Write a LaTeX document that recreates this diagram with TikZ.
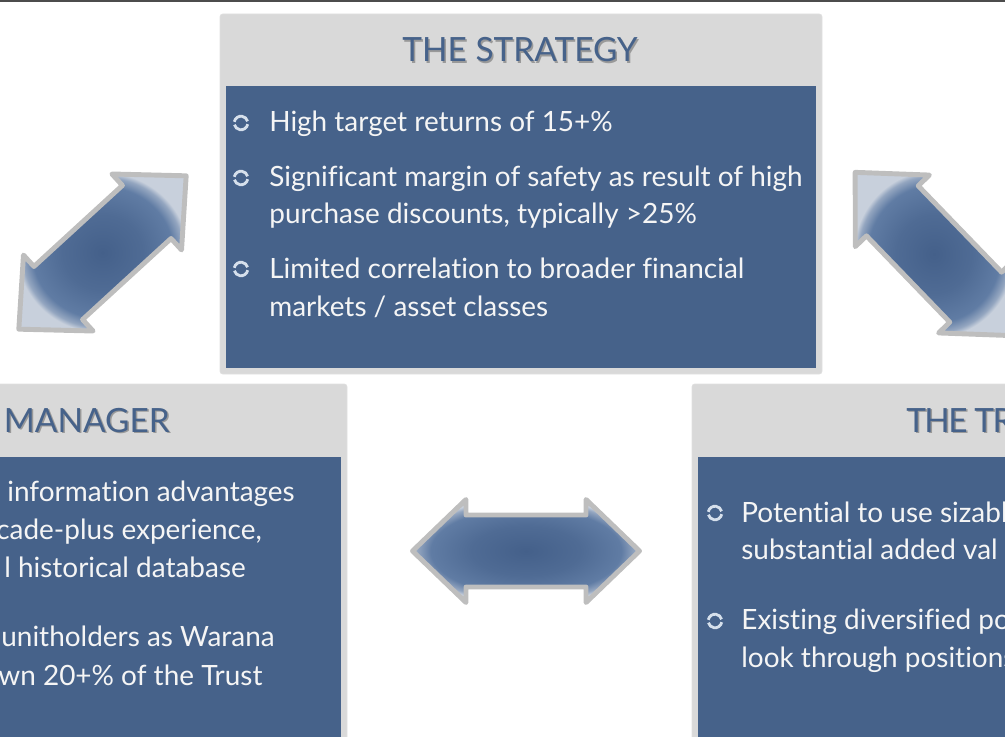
\documentclass[tikz,border=0pt]{standalone}
\usepackage{fontspec}
\newfontfamily\panelfont[Ligatures=NoCommon]{Lato}
\usetikzlibrary{arrows}

\definecolor{panelgray}{RGB}{217,217,217}
\definecolor{boxblue}{RGB}{70,98,138}
\definecolor{edgegray}{RGB}{190,190,190}
\definecolor{arrowdark}{RGB}{68,96,138}
\definecolor{arrowmid}{RGB}{96,124,164}
\definecolor{arrowlight}{RGB}{200,208,220}
\definecolor{ringcol}{RGB}{214,224,236}

\pgfdeclareradialshading{arrowglow}{\pgfpoint{0bp}{0bp}}{color(0bp)=(arrowdark); color(12bp)=(arrowdark!60!arrowmid); color(21bp)=(arrowmid); color(24bp)=(arrowmid!50!arrowlight); color(25.5bp)=(arrowlight); color(50bp)=(arrowlight)}

\tikzset{
  bodytext/.style={anchor=base west, inner sep=0pt, text=white!96!black,
    font=\panelfont\fontsize{15.9}{19}\selectfont},
  titletext/.style={inner sep=0pt, text=boxblue,
    font=\panelfont\fontsize{19}{23}\selectfont},
  titleshadow/.style={titletext, text=black!60, opacity=0.55},
  swirl/.pic={
    \draw[ringcol, line width=1.6pt] (10:6.8) arc (10:165:6.8);
    \draw[ringcol, line width=1.6pt] (190:6.8) arc (190:345:6.8);
  }
}

\newcommand{\wayarrow}[2]{%
  \begin{scope}[shift={(#1)}, rotate=#2]
    \shade[shading=arrowglow, draw=edgegray, line width=2.8pt, line join=round]
      (-113.5,0) -- (-60,-51.5) -- (-60,-36) -- (60,-36) -- (60,-51.5) -- (113.5,0)
      -- (60,51.5) -- (60,36) -- (-60,36) -- (-60,51.5) -- cycle;
  \end{scope}}

\begin{document}
\begin{tikzpicture}[x=0.2mm, y=-0.2mm]
\useasboundingbox (0,0) rectangle (1005,736);
\clip (0,0) rectangle (1005,736);

\fill[black!70] (0,0) rectangle (1005,1.6);

% the strategy
\fill[panelgray, draw=black!12, rounded corners=1.5] (220,14) rectangle (822,374);
\fill[boxblue] (226,86) rectangle (816,368);
\node[titleshadow, anchor=base] at (521.5,63.5) {THE STRATEGY};
\node[titletext, anchor=base] (strategy) at (520,62) {THE STRATEGY};

\pic at (241,123) {swirl};
\node[bodytext] (s1) at (269,132) {High target returns of 15+\%};
\pic at (241,178) {swirl};
\node[bodytext] (s2) at (269,187) {Significant margin of safety as result of high};
\node[bodytext] (s3) at (269,224) {purchase discounts, typically >25\%};
\pic at (241,269) {swirl};
\node[bodytext] (s4) at (269,278) {Limited correlation to broader financial};
\node[bodytext] (s5) at (269,316) {markets / asset classes};

% the manager
\fill[panelgray, draw=black!12, rounded corners=1.5] (-260,384) rectangle (347,760);
\fill[boxblue] (-260,457) rectangle (341,760);
\node[titleshadow, anchor=base east] at (171.5,433.5) {MANAGER};
\node[titletext, anchor=base east] (manager) at (170,432) {MANAGER};

% the trust
\fill[panelgray, draw=black!12, rounded corners=1.5] (692,384) rectangle (1300,760);
\fill[boxblue] (698,457) rectangle (1300,760);
\node[titleshadow, anchor=base west] at (907.5,433.5) {\addfontfeature{LetterSpace=-5}THE TR};
\node[titletext, anchor=base west] (trust) at (906,432) {\addfontfeature{LetterSpace=-5}THE TR};

\node[bodytext] (m1) at (7,501) {information advantages};
\node[bodytext] (m2) at (-4,539) {cade-plus experience,};
\node[bodytext] (m3) at (4,577) {l historical database};
\node[bodytext] (m4) at (1,646) {unitholders as Warana};
\node[bodytext] (m5) at (-2,685) {wn 20+\% of the Trust};

\pic at (715,513) {swirl};
\node[bodytext] (t1) at (741,522) {Potential to use sizabl};
\node[bodytext] (t2) at (741,559) {substantial added val};
\pic at (715,621) {swirl};
\node[bodytext] (t3) at (741,629) {Existing diversified po};
\node[bodytext] (t4) at (741,667) {look through positions};

% arrows between the panels
\coordinate (leftway) at (102.5,252.5);
\coordinate (rightway) at (934,254);
\coordinate (lowway) at (526,551);
\wayarrow{leftway}{42.5}
\wayarrow{rightway}{-46}
\wayarrow{lowway}{0}

\end{tikzpicture}
\end{document}
